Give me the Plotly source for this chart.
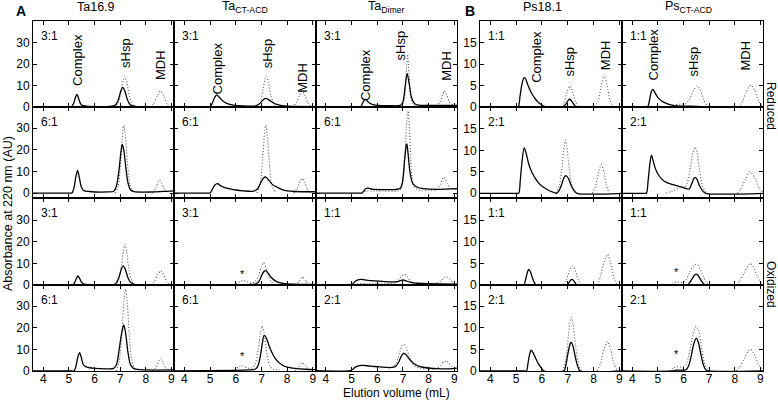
import plotly.graph_objects as go

# ---------------- data ----------------
X_RANGE = [3.6, 9.1]
X_TICKS = [4, 5, 6, 7, 8, 9]
A_YTICKS = [0, 10, 20, 30]
B_YTICKS = [0, 5, 10, 15]
MARKERS_ML = [4.8, 5.35, 7.12, 7.95, 9.1]

COLUMN_TITLES = ["Ta16.9", "Ta<sub>CT-ACD</sub>", "Ta<sub>Dimer</sub>", "Ps18.1", "Ps<sub>CT-ACD</sub>"]
RATIOS = [
    ["3:1", "3:1", "3:1", "1:1", "1:1"],
    ["6:1", "6:1", "6:1", "2:1", "2:1"],
    ["3:1", "3:1", "1:1", "1:1", "1:1"],
    ["6:1", "6:1", "2:1", "2:1", "2:1"],
]
A_YRANGES = [[0, 40], [-2.3, 39.8], [0, 40.2], [0, 39.8]]
B_YRANGES = [[0, 20], [-1.1, 20.1], [0, 20.1], [0, 19.9]]

N = (None, None)

# Row 1 (reduced)
r1_ta169_solid = [(3.6,0),(4.9,0),(5.08,0),(5.18,1.5),(5.25,4.2),(5.31,5.9),(5.38,4.0),(5.45,1.6),(5.55,0.6),(5.8,0.3),(6.6,0.3),(6.8,0.8),(6.92,3.0),(7.02,7.2),(7.1,9.1),(7.18,7.5),(7.28,3.5),(7.4,0.9),(7.6,0.3),(9.1,0.2)]
r1_ta169_dot = [(6.75,0),(6.9,1.5),(7.03,7),(7.12,12.5),(7.18,14.3),(7.26,11.5),(7.36,5),(7.48,1),(7.6,0),N,(8.15,0),(8.3,1.5),(8.45,5),(8.58,7.5),(8.7,5),(8.82,1.5),(8.95,0)]
r1_tacta_solid = [(3.6,0),(4.85,0),(5.0,0),(5.08,1.5),(5.17,4.2),(5.26,5.6),(5.36,4.5),(5.5,2.8),(5.65,1.7),(5.85,1.0),(6.1,0.6),(6.5,0.4),(6.8,0.6),(6.95,1.8),(7.07,3.4),(7.17,4.0),(7.3,3.2),(7.45,2.0),(7.6,1.2),(7.8,0.6),(8.0,0.35),(9.1,0.2)]
r1_tacta_dot = [(6.8,0),(6.95,2),(7.07,8.5),(7.15,13.5),(7.2,14.3),(7.27,11.5),(7.37,5),(7.5,1),(7.6,0),N,(8.2,0),(8.35,2),(8.48,5.5),(8.58,7.5),(8.68,5.5),(8.8,2),(8.92,0)]
r1_tadim_solid = [(3.6,0),(5.2,0),(5.35,0),(5.42,1.5),(5.5,3.3),(5.55,3.5),(5.65,2.3),(5.8,1.2),(6.0,0.8),(6.5,0.6),(6.9,0.8),(7.0,2.5),(7.08,9),(7.16,15.6),(7.24,11),(7.32,5),(7.42,2),(7.55,1.0),(8.0,0.8),(9.1,0.8)]
r1_tadim_dot = [(6.95,0),(7.05,3),(7.12,14),(7.18,24.5),(7.24,15),(7.3,5),(7.4,1.5),(7.5,0.5),N,(8.3,0.3),(8.45,2.5),(8.55,6),(8.61,7.5),(8.69,6),(8.8,2.5),(8.95,0.8),(9.1,0.8)]
r1_ps181_solid = [(3.6,0),(4.95,0),(5.08,0),(5.15,2.5),(5.22,5.2),(5.3,6.8),(5.36,6.6),(5.45,5.2),(5.6,3.2),(5.75,1.8),(5.9,0.9),(6.05,0.3),(6.15,0),(6.8,0),(6.92,0.6),(7.02,1.6),(7.08,1.8),(7.16,1.3),(7.26,0.4),(7.35,0),(9.1,0)]
r1_ps181_dot = [(6.72,0),(6.85,1),(6.97,3.5),(7.08,4.9),(7.18,3.6),(7.3,1.2),(7.42,0),N,(8.05,0),(8.18,1.5),(8.3,5),(8.41,7.4),(8.52,5),(8.64,1.5),(8.76,0)]
r1_pscta_solid = [(3.6,0),(4.5,0),(4.6,0),(4.67,1.5),(4.74,3.5),(4.8,4.1),(4.88,3.4),(5.0,2.2),(5.15,1.4),(5.35,0.8),(5.6,0.4),(6.0,0.2),(6.5,0.15),(7.0,0),(9.1,0)]
r1_pscta_dot = [(5.5,0),(5.7,0.5),(5.9,0.7),(6.1,0.8),(6.25,2),(6.4,4),(6.53,4.9),(6.65,4),(6.78,1.8),(6.92,0.3),(7.0,0),N,(8.15,0),(8.3,1.3),(8.45,3.5),(8.62,5.1),(8.78,3.8),(8.92,1.5),(9.05,0.3)]

# Row 2 (reduced)
r2_ta169_solid = [(3.6,0),(5.0,0),(5.12,0),(5.2,2.5),(5.27,7.5),(5.34,10.5),(5.41,7),(5.48,3),(5.57,1.2),(5.8,0.7),(6.5,0.5),(6.75,0.8),(6.85,3),(6.95,10),(7.03,19),(7.08,22.5),(7.14,20),(7.22,12),(7.3,5),(7.4,1.5),(7.55,0.6),(8.3,0.5),(8.8,0.8),(9.1,1.0)]
r2_ta169_dot = [(6.8,0),(6.92,3),(7.02,14),(7.1,28),(7.14,31.3),(7.2,27),(7.28,15),(7.38,4),(7.5,0.5),N,(8.25,0),(8.38,2),(8.47,4.8),(8.54,5.9),(8.62,4.5),(8.72,1.8),(8.82,0)]
r2_tacta_solid = [(3.6,0),(4.9,0),(5.0,0),(5.08,1.5),(5.18,3.6),(5.3,4.3),(5.42,3.3),(5.6,2.4),(5.75,2.0),(6.0,1.4),(6.3,1.0),(6.7,0.9),(6.85,2),(6.98,5),(7.08,7),(7.17,7.4),(7.28,6),(7.42,4),(7.59,2.8),(7.8,1.6),(8.0,1.0),(8.3,0.7),(9.1,0.6)]
r2_tacta_dot = [(6.82,0),(6.95,4),(7.05,17),(7.13,29),(7.17,31.3),(7.23,26),(7.32,12),(7.42,3),(7.55,0.5),N,(8.25,0),(8.38,2),(8.5,5.5),(8.58,6.7),(8.66,5.2),(8.78,1.8),(8.9,0)]
r2_tadim_solid = [(3.6,0),(5.3,0),(5.4,0),(5.47,0.8),(5.55,2.0),(5.65,2.3),(5.8,1.8),(6.2,1.6),(6.7,1.6),(6.9,2.2),(6.98,5),(7.06,15),(7.12,21.5),(7.15,22.9),(7.2,18),(7.28,9),(7.38,4.5),(7.54,2.8),(7.8,2.0),(8.4,1.7),(9.1,2.0)]
r2_tadim_dot = [(5.4,0),(5.55,0.8),(6.0,1.0),(6.8,1.0),(6.95,2.5),(7.05,12),(7.13,30),(7.2,38),(7.26,28),(7.33,10),(7.42,3),(7.6,1.5),(8.0,1.3),(8.3,1.5),(8.45,4),(8.59,7.4),(8.72,4.5),(8.85,2),(9.1,1.8)]
r2_ps181_solid = [(3.6,0),(5.0,0),(5.1,0),(5.16,3),(5.23,7.5),(5.31,10.6),(5.38,9.5),(5.48,7.0),(5.6,5.0),(5.75,3.4),(5.9,2.2),(6.06,1.4),(6.25,0.7),(6.45,0.2),(6.55,0),(6.65,0.5),(6.76,2),(6.85,3.6),(6.93,4.1),(7.02,3.5),(7.12,2),(7.25,0.6),(7.36,0),(9.1,0)]
r2_ps181_dot = [(6.55,0),(6.68,2),(6.78,6.5),(6.86,11),(6.9,12.4),(6.96,11),(7.05,6),(7.15,2),(7.26,0),N,(7.95,0),(8.07,1.5),(8.18,4.5),(8.3,6.7),(8.4,5),(8.5,1.8),(8.6,0)]
r2_pscta_solid = [(3.6,0),(4.45,0),(4.55,0),(4.62,3),(4.69,7),(4.75,8.9),(4.82,7.5),(4.9,5.8),(5.0,4.5),(5.15,3.3),(5.35,2.5),(5.6,2.0),(5.9,1.5),(6.1,1.1),(6.22,1.0),(6.32,2.2),(6.4,3.4),(6.45,3.7),(6.52,3.3),(6.62,1.8),(6.75,0.5),(6.87,0),(9.1,0)]
r2_pscta_dot = [(5.3,0),(5.6,0.6),(5.85,1.3),(6.05,1.5),(6.15,2.5),(6.27,6),(6.37,9.5),(6.45,10.8),(6.53,9.5),(6.63,5),(6.75,1.5),(6.88,0),N,(8.1,0),(8.25,1.2),(8.42,3.3),(8.6,5.0),(8.78,3.5),(8.95,1.2),(9.1,0.3)]

# Row 3 (oxidized)
r3_ta169_solid = [(3.6,0),(5.05,0),(5.15,0),(5.22,1),(5.29,3),(5.35,4.2),(5.42,3),(5.5,1.2),(5.6,0.4),(5.8,0.2),(6.75,0.2),(6.85,1),(6.95,3.5),(7.05,7.5),(7.12,8.8),(7.2,7.3),(7.3,3.5),(7.42,1),(7.55,0.3),(9.1,0.2)]
r3_ta169_dot = [(6.8,0),(6.93,2),(7.05,9),(7.13,16),(7.18,18.8),(7.25,15.5),(7.34,7.5),(7.45,2),(7.58,0),N,(8.2,0),(8.33,1.5),(8.47,4.8),(8.58,6.6),(8.69,4.8),(8.82,1.5),(8.95,0)]
r3_tacta_solid = [(3.6,0),(6.5,0.2),(6.8,0.6),(6.92,2),(7.02,4.8),(7.1,6.3),(7.17,6.6),(7.27,5.3),(7.4,3.2),(7.55,1.8),(7.7,1.1),(7.9,0.6),(8.2,0.4),(9.1,0.3)]
r3_tacta_dot = [(5.9,0),(6.05,0.8),(6.2,1.8),(6.3,2),(6.45,1.5),(6.6,1),(6.75,1.5),(6.88,4),(6.98,8),(7.07,10.3),(7.16,8.5),(7.26,4.5),(7.38,1.5),(7.5,0.5),N,(8.3,0),(8.45,1.5),(8.6,3.7),(8.72,2),(8.85,0.3)]
r3_tadim_solid = [(3.6,0.2),(4.95,0.2),(5.05,0.6),(5.15,1.7),(5.25,2.4),(5.35,2.6),(5.5,2.4),(5.8,2.0),(6.2,1.7),(6.6,1.4),(6.8,1.6),(6.92,2.1),(7.02,2.3),(7.12,1.9),(7.3,1.2),(7.6,0.8),(8.0,0.6),(8.5,0.5),(9.1,0.4)]
r3_tadim_dot = [(5.0,0),(5.2,0.5),(5.6,0.8),(6.2,0.8),(6.7,1.0),(6.85,2.5),(6.97,4.3),(7.05,4.9),(7.15,4),(7.27,2),(7.45,0.8),(7.9,0.6),(8.3,0.8),(8.5,2.2),(8.65,3.6),(8.72,3.8),(8.82,2.8),(8.95,1.2),(9.1,0.8)]
r3_ps181_solid = [(3.6,0),(5.2,0),(5.3,0),(5.38,1.6),(5.45,3.2),(5.49,3.6),(5.55,3.1),(5.63,1.6),(5.72,0.4),(5.78,0),(6.95,0),(7.05,0.6),(7.12,1.2),(7.17,1.3),(7.24,0.9),(7.32,0.2),(7.38,0),(9.1,0)]
r3_ps181_dot = [(6.82,0),(6.95,1.2),(7.07,3.4),(7.2,4.4),(7.3,3.2),(7.42,1),(7.52,0),N,(8.15,0),(8.27,2),(8.4,5.2),(8.54,7.1),(8.66,5),(8.78,1.8),(8.9,0)]
r3_pscta_solid = [(3.6,0),(6.05,0),(6.15,0),(6.25,0.6),(6.35,1.6),(6.45,2.4),(6.5,2.5),(6.57,2.2),(6.67,1.2),(6.78,0.3),(6.88,0),(9.1,0)]
r3_pscta_dot = [(5.45,0),(5.6,0.5),(5.75,0.7),(5.95,0.6),(6.1,1.2),(6.25,3),(6.4,4.5),(6.5,4.8),(6.6,4.3),(6.73,2.5),(6.88,0.7),(7.0,0),N,(8.05,0),(8.2,1),(8.38,3),(8.6,5.0),(8.72,4.2),(8.88,2),(9.05,0.3)]

# Row 4 (oxidized)
r4_ta169_solid = [(3.6,0),(5.1,0),(5.2,0),(5.27,2),(5.35,6.5),(5.42,8.5),(5.49,6),(5.56,3),(5.65,2.0),(5.8,1.5),(6.0,1.2),(6.5,1.0),(6.75,1.2),(6.86,3),(6.95,9),(7.05,17),(7.14,21.3),(7.22,17),(7.3,9),(7.4,3),(7.52,1.2),(7.8,0.6),(9.1,0.5)]
r4_ta169_dot = [(6.85,0),(6.97,5),(7.07,19),(7.16,34),(7.21,37.8),(7.27,33),(7.35,18),(7.45,5),(7.58,0.5),N,(8.25,0),(8.38,1.5),(8.5,4.5),(8.58,5.7),(8.67,4.2),(8.78,1.2),(8.9,0)]
r4_tacta_solid = [(3.6,0),(6.0,0.3),(6.5,0.5),(6.75,0.8),(6.85,2),(6.95,6.5),(7.03,12.5),(7.1,16.5),(7.18,15.5),(7.3,11.5),(7.45,7.5),(7.6,4.8),(7.8,2.8),(8.0,1.8),(8.3,1.2),(8.7,0.8),(9.1,0.6)]
r4_tacta_dot = [(5.85,0),(6.0,1),(6.15,2.2),(6.28,2.3),(6.45,1.5),(6.6,1.3),(6.75,3),(6.87,10),(6.96,17.5),(7.03,20.8),(7.1,18),(7.2,9),(7.32,2.5),(7.45,0.8),(7.7,0.5),N,(8.3,0),(8.45,2),(8.58,3.8),(8.7,2.5),(8.85,0.4)]
r4_tadim_solid = [(3.6,0.2),(4.95,0.2),(5.05,0.8),(5.18,2.0),(5.3,2.5),(5.45,2.6),(5.7,2.3),(6.1,1.9),(6.5,1.6),(6.7,2.0),(6.82,3.8),(6.92,6.5),(7.02,8.2),(7.12,7.5),(7.25,5.5),(7.4,3.6),(7.6,2.3),(7.9,1.5),(8.3,1.1),(8.8,1.0),(9.1,1.3)]
r4_tadim_dot = [(6.6,1.5),(6.75,4),(6.88,9),(6.98,12),(7.05,12.3),(7.12,11),(7.25,6.5),(7.4,3),(7.6,1.5),(8.0,1.0),(8.3,1.2),(8.45,2.5),(8.58,4.2),(8.68,4.6),(8.78,3.8),(8.92,2.0),(9.1,1.5)]
r4_ps181_solid = [(3.6,0),(5.3,0),(5.4,0),(5.46,1.8),(5.52,3.8),(5.58,4.8),(5.65,4.3),(5.75,3.0),(5.87,1.6),(6.0,0.5),(6.08,0),(6.85,0),(6.93,1.5),(7.02,4.5),(7.1,6.4),(7.14,6.6),(7.2,5.8),(7.3,3),(7.4,0.8),(7.48,0),(9.1,0)]
r4_ps181_dot = [(6.8,0),(6.92,2.5),(7.03,8.5),(7.1,12),(7.14,12.4),(7.2,11),(7.3,6),(7.42,1.5),(7.52,0),N,(8.15,0),(8.27,1.8),(8.4,5),(8.54,6.8),(8.66,5),(8.8,1.5),(8.92,0)]
r4_pscta_solid = [(3.6,0),(5.55,0),(5.7,0.2),(5.9,0.2),(6.1,0.3),(6.2,1.2),(6.3,3.5),(6.4,6.3),(6.5,7.6),(6.58,6.6),(6.68,3.8),(6.78,1.3),(6.88,0.2),(6.95,0),(9.1,0)]
r4_pscta_dot = [(5.45,0),(5.6,0.7),(5.75,1.0),(5.95,0.9),(6.1,1.5),(6.22,4),(6.35,8),(6.48,10.3),(6.58,9.5),(6.7,5.5),(6.82,1.8),(6.95,0.3),(7.05,0),N,(8.05,0),(8.2,1),(8.38,3),(8.55,4.8),(8.63,5.0),(8.75,4),(8.9,1.8),(9.05,0.3)]

SOLID = [
    [r1_ta169_solid, r1_tacta_solid, r1_tadim_solid, r1_ps181_solid, r1_pscta_solid],
    [r2_ta169_solid, r2_tacta_solid, r2_tadim_solid, r2_ps181_solid, r2_pscta_solid],
    [r3_ta169_solid, r3_tacta_solid, r3_tadim_solid, r3_ps181_solid, r3_pscta_solid],
    [r4_ta169_solid, r4_tacta_solid, r4_tadim_solid, r4_ps181_solid, r4_pscta_solid],
]
DOTTED = [
    [r1_ta169_dot, r1_tacta_dot, r1_tadim_dot, r1_ps181_dot, r1_pscta_dot],
    [r2_ta169_dot, r2_tacta_dot, r2_tadim_dot, r2_ps181_dot, r2_pscta_dot],
    [r3_ta169_dot, r3_tacta_dot, r3_tadim_dot, r3_ps181_dot, r3_pscta_dot],
    [r4_ta169_dot, r4_tacta_dot, r4_tadim_dot, r4_ps181_dot, r4_pscta_dot],
]

# peak labels in top row: (text, x, y-bottom) per column
PEAK_LABELS = [
    [("Complex", 5.31, 8.8), ("sHsp", 7.18, 17.1), ("MDH", 8.55, 11.6)],
    [("Complex", 5.30, 4.8), ("sHsp", 7.22, 17.1), ("MDH", 8.60, 5.5)],
    [("Complex", 5.52, 1.8), ("sHsp", 6.89, 20.8), ("MDH", 8.66, 11.1)],
    [("Complex", 5.76, 5.1), ("sHsp", 7.06, 6.7), ("MDH", 8.44, 8.1)],
    [("Complex", 4.83, 5.6), ("sHsp", 6.38, 6.7), ("MDH", 8.38, 7.9)],
]
# asterisks: (row, col, x, y)
STARS = [(2, 1, 6.26, 5.0), (3, 1, 6.28, 7.0), (2, 4, 5.72, 3.1), (3, 4, 5.72, 3.9)]

# ---------------- layout geometry ----------------
W, H = 778, 401
ML, MR, MT, MB = 33, 15, 21, 30
PW, PH = W - ML - MR, H - MT - MB
COL_PX = [(33, 174), (174, 315.5), (315.5, 457), (480, 622), (622, 763)]
ROW_PX = [(21, 107), (107, 198), (198, 285), (285, 371)]
TITLE_PX = [96, 245, 386, 542, 688]

def px2x(px):
    return (px - ML) / PW

def px2y(py):
    return (H - MB - py) / PH

FONT = "Liberation Sans, Arial, Helvetica, sans-serif"

fig = go.Figure()
layout = {}
annotations = []

for r in range(4):
    for c in range(5):
        k = r * 5 + c + 1
        xs = "x" if k == 1 else f"x{k}"
        ys = "y" if k == 1 else f"y{k}"
        xa = "xaxis" if k == 1 else f"xaxis{k}"
        ya = "yaxis" if k == 1 else f"yaxis{k}"
        is_b = c >= 3
        yr = B_YRANGES[r] if is_b else A_YRANGES[r]
        ytv = B_YTICKS if is_b else A_YTICKS
        layout[xa] = dict(
            domain=[px2x(COL_PX[c][0]), px2x(COL_PX[c][1])],
            range=X_RANGE, anchor=ys, tickvals=X_TICKS,
            showticklabels=(r == 3), ticks="inside", ticklen=4, tickwidth=1,
            ticklabelstandoff=-3,
            tickcolor="black", showline=True, linecolor="black", linewidth=1,
            mirror="ticks", showgrid=False, zeroline=False,
            tickfont=dict(family=FONT, size=12, color="black"),
        )
        layout[ya] = dict(
            domain=[px2y(ROW_PX[r][1]), px2y(ROW_PX[r][0])],
            range=yr, anchor=xs, tickvals=ytv,
            showticklabels=(c in (0, 3)), ticks="inside", ticklen=4, tickwidth=1,
            tickcolor="black", showline=True, linecolor="black", linewidth=1,
            mirror="ticks", showgrid=False, zeroline=False,
            tickfont=dict(family=FONT, size=12, color="black"),
        )
        dot = DOTTED[r][c]
        fig.add_trace(go.Scatter(
            x=[p[0] for p in dot], y=[p[1] for p in dot], xaxis=xs, yaxis=ys,
            mode="lines", line=dict(color="#555555", width=1.1, dash="1px,2px",
                                    shape="spline", smoothing=0.8),
            showlegend=False, hoverinfo="skip"))
        sol = SOLID[r][c]
        fig.add_trace(go.Scatter(
            x=[p[0] for p in sol], y=[p[1] for p in sol], xaxis=xs, yaxis=ys,
            mode="lines", line=dict(color="black", width=1.3,
                                    shape="spline", smoothing=0.8),
            showlegend=False, hoverinfo="skip"))
        # ratio label
        annotations.append(dict(
            text=RATIOS[r][c], xref="paper", yref="paper",
            x=px2x(COL_PX[c][0] + 6), y=px2y(ROW_PX[r][0] + 6),
            xanchor="left", yanchor="top", showarrow=False,
            font=dict(family=FONT, size=12, color="black")))
        if r == 0:
            top = yr[1] + (3.6 / (86 / (yr[1] - yr[0])))
            fig.add_trace(go.Scatter(
                x=MARKERS_ML, y=[top] * len(MARKERS_ML), xaxis=xs, yaxis=ys,
                mode="markers", marker=dict(symbol="triangle-down", size=6, color="black"),
                cliponaxis=False, showlegend=False, hoverinfo="skip"))
            for (txt, lx, ly) in PEAK_LABELS[c]:
                annotations.append(dict(
                    text=txt, xref=xs, yref=ys, x=lx, y=ly, textangle=-90,
                    xanchor="center", yanchor="bottom", showarrow=False,
                    font=dict(family=FONT, size=13, color="black")))

for (r, c, sx, sy) in STARS:
    k = r * 5 + c + 1
    annotations.append(dict(
        text="*", xref=f"x{k}", yref=f"y{k}", x=sx, y=sy, showarrow=False,
        font=dict(family=FONT, size=11, color="black")))

for c in range(5):
    annotations.append(dict(
        text=COLUMN_TITLES[c], xref="paper", yref="paper",
        x=px2x(TITLE_PX[c]), y=px2y(7), xanchor="center", yanchor="middle",
        showarrow=False, font=dict(family=FONT, size=12.5, color="black")))

annotations += [
    dict(text="<b>A</b>", xref="paper", yref="paper", x=px2x(21), y=px2y(11),
         xanchor="center", yanchor="middle", showarrow=False,
         font=dict(family=FONT, size=14, color="black")),
    dict(text="<b>B</b>", xref="paper", yref="paper", x=px2x(470.5), y=px2y(11),
         xanchor="center", yanchor="middle", showarrow=False,
         font=dict(family=FONT, size=14, color="black")),
    dict(text="Absorbance at 220 nm (AU)", xref="paper", yref="paper",
         x=px2x(8), y=px2y(214), textangle=-90, xanchor="center", yanchor="middle",
         showarrow=False, font=dict(family=FONT, size=12.5, color="black")),
    dict(text="Elution volume (mL)", xref="paper", yref="paper",
         x=px2x(396), y=px2y(393), xanchor="center", yanchor="middle",
         showarrow=False, font=dict(family=FONT, size=12, color="black")),
    dict(text="Reduced", xref="paper", yref="paper",
         x=px2x(771), y=px2y(106), textangle=90, xanchor="center", yanchor="middle",
         showarrow=False, font=dict(family=FONT, size=12, color="black")),
    dict(text="Oxidized", xref="paper", yref="paper",
         x=px2x(771), y=px2y(284), textangle=90, xanchor="center", yanchor="middle",
         showarrow=False, font=dict(family=FONT, size=12, color="black")),
]

fig.update_layout(
    width=W, height=H,
    margin=dict(l=ML, r=MR, t=MT, b=MB),
    paper_bgcolor="white", plot_bgcolor="white",
    annotations=annotations, showlegend=False,
    font=dict(family=FONT, size=12, color="black"),
    **layout)

fig.write_html("out.html",
               config={"displayModeBar": False},
               post_script="document.body.style.margin='0';document.body.style.overflow='hidden';")
